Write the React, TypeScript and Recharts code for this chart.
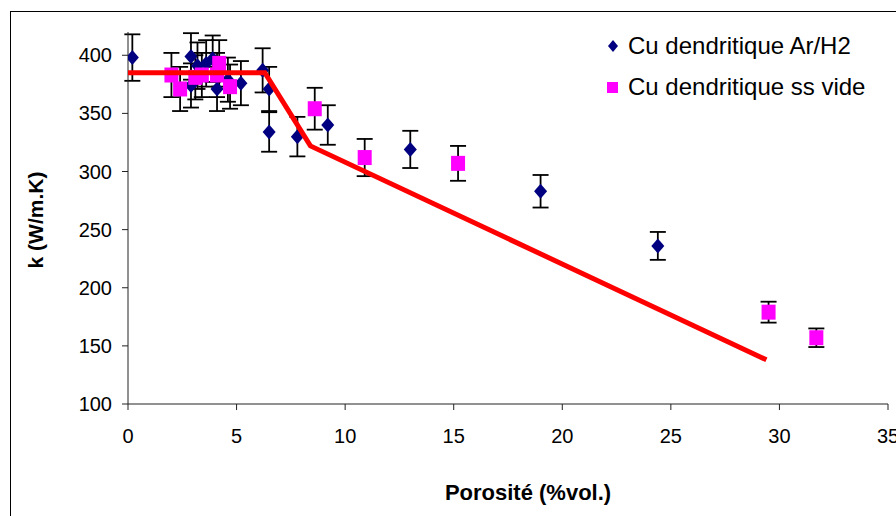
import { ScatterChart, Scatter, XAxis, YAxis, ErrorBar, Legend, Label } from "recharts";

// Cu dendritique Ar/H2 (losanges bleus)
const arX = [0.2, 2.9, 2.9, 3.2, 3.6, 3.9, 4.1, 4.6, 5.2, 6.2, 6.5, 6.5, 7.8, 9.2, 13.0, 19.0, 24.4];
const arY = [398, 399, 374, 391, 393, 397, 371, 379, 376, 387, 371, 334, 330, 340, 319, 283, 236];
const arErr = [20, 20, 19, 20, 20, 20, 19, 19, 19, 19, 19, 17, 17, 17, 16, 14, 12];

// Cu dendritique ss vide (carrés magenta)
const vdX = [2.0, 2.4, 3.1, 3.4, 4.1, 4.2, 4.7, 8.6, 10.9, 15.2, 29.5, 31.7];
const vdY = [383, 371, 381, 383, 383, 393, 373, 354, 312, 307, 179, 157];
const vdErr = [19, 19, 19, 19, 19, 20, 19, 18, 16, 15, 9, 8];

// modèle (ligne rouge)
const fitX = [0, 6.3, 8.4, 29.4];
const fitY = [385, 385, 322, 138];

const xTicks = [0, 5, 10, 15, 20, 25, 30, 35];
const yTicks = [100, 150, 200, 250, 300, 350, 400];

const arData = arX.map((x, i) => ({ x, y: arY[i], err: arErr[i] }));
const vdData = vdX.map((x, i) => ({ x, y: vdY[i], err: vdErr[i] }));
const fitData = fitX.map((x, i) => ({ x, y: fitY[i] }));

const FONT = "'Liberation Sans', Arial, sans-serif";
const NAVY = "#000080";
const MAGENTA = "#FF00FF";

function Diamond(props: any) {
  const { cx, cy } = props;
  return (
    <polygon
      points={`${cx},${cy - 7.5} ${cx + 6.5},${cy} ${cx},${cy + 7.5} ${cx - 6.5},${cy}`}
      fill={NAVY}
    />
  );
}

function Square(props: any) {
  const { cx, cy } = props;
  return <rect x={cx - 7} y={cy - 7.5} width={14} height={15} fill={MAGENTA} />;
}

function LegendBox(props: any) {
  const items = (props.payload || []).filter((p: any) => p.type !== "none");
  return (
    <div style={{ fontFamily: FONT, fontSize: 24, color: "#000" }}>
      {items.map((p: any) => (
        <div key={p.value} style={{ display: "flex", alignItems: "center", height: 41 }}>
          <svg width={22} height={16} style={{ marginRight: 4 }}>
            {p.value.includes("Ar") ? (
              <polygon points="11,2 16,8 11,14 6,8" fill={NAVY} />
            ) : (
              <rect x={5} y={3} width={11} height={11} fill={MAGENTA} />
            )}
          </svg>
          <span>{p.value}</span>
        </div>
      ))}
    </div>
  );
}

export default function App() {
  return (
    <div
      style={{
        position: "fixed",
        left: 0,
        top: 0,
        width: 896,
        height: 516,
        background: "#fff",
        overflow: "hidden",
      }}
    >
      <div
        style={{
          position: "absolute",
          left: 10,
          top: 11,
          width: 900,
          height: 520,
          border: "1px solid #000",
        }}
      />
      <div style={{ position: "absolute", left: 0, top: 0 }}>
        <ScatterChart width={896} height={516} margin={{ top: 32, right: 8, left: 68, bottom: 82 }}>
          <XAxis
            type="number"
            dataKey="x"
            domain={[0, 35]}
            ticks={xTicks}
            interval={0}
            allowDataOverflow
            height={30}
            tickSize={6}
            tickMargin={19}
            axisLine={{ stroke: "#222" }}
            tickLine={{ stroke: "#222" }}
            tick={{ fontSize: 20, fill: "#000", fontFamily: FONT }}
          >
            <Label
              content={(p: any) => (
                <text
                  x={p.viewBox.x + p.viewBox.width / 2 + 20}
                  y={500}
                  textAnchor="middle"
                  fontFamily={FONT}
                  fontWeight="bold"
                  fontSize={22}
                  fill="#000"
                >
                  Porosité (%vol.)
                </text>
              )}
            />
          </XAxis>
          <YAxis
            type="number"
            dataKey="y"
            domain={[100, 420]}
            ticks={yTicks}
            interval={0}
            allowDataOverflow
            width={60}
            tickSize={6}
            tickMargin={10}
            axisLine={{ stroke: "#222" }}
            tickLine={{ stroke: "#222" }}
            tick={{ fontSize: 20, fill: "#000", fontFamily: FONT }}
          >
            <Label
              content={() => (
                <text
                  x={43}
                  y={220}
                  transform="rotate(-90, 43, 220)"
                  textAnchor="middle"
                  fontFamily={FONT}
                  fontWeight="bold"
                  fontSize={21}
                  fill="#000"
                >
                  k (W/m.K)
                </text>
              )}
            />
          </YAxis>
          <Legend
            layout="vertical"
            align="center"
            verticalAlign="middle"
            wrapperStyle={{ left: 602, top: 25, width: 290 }}
            content={LegendBox}
          />
          <Scatter
            name="Cu dendritique Ar/H2"
            data={arData}
            fill={NAVY}
            shape={Diamond}
            isAnimationActive={false}
          >
            <ErrorBar dataKey="err" direction="y" width={8} stroke="#000" strokeWidth={1.8} />
          </Scatter>
          <Scatter
            name="Cu dendritique ss vide"
            data={vdData}
            fill={MAGENTA}
            shape={Square}
            isAnimationActive={false}
          >
            <ErrorBar dataKey="err" direction="y" width={8} stroke="#000" strokeWidth={1.8} />
          </Scatter>
          <Scatter
            name="modele"
            data={fitData}
            legendType="none"
            line={{ stroke: "#FF0000", strokeWidth: 5 }}
            shape={() => <g />}
            isAnimationActive={false}
          />
        </ScatterChart>
      </div>
    </div>
  );
}
